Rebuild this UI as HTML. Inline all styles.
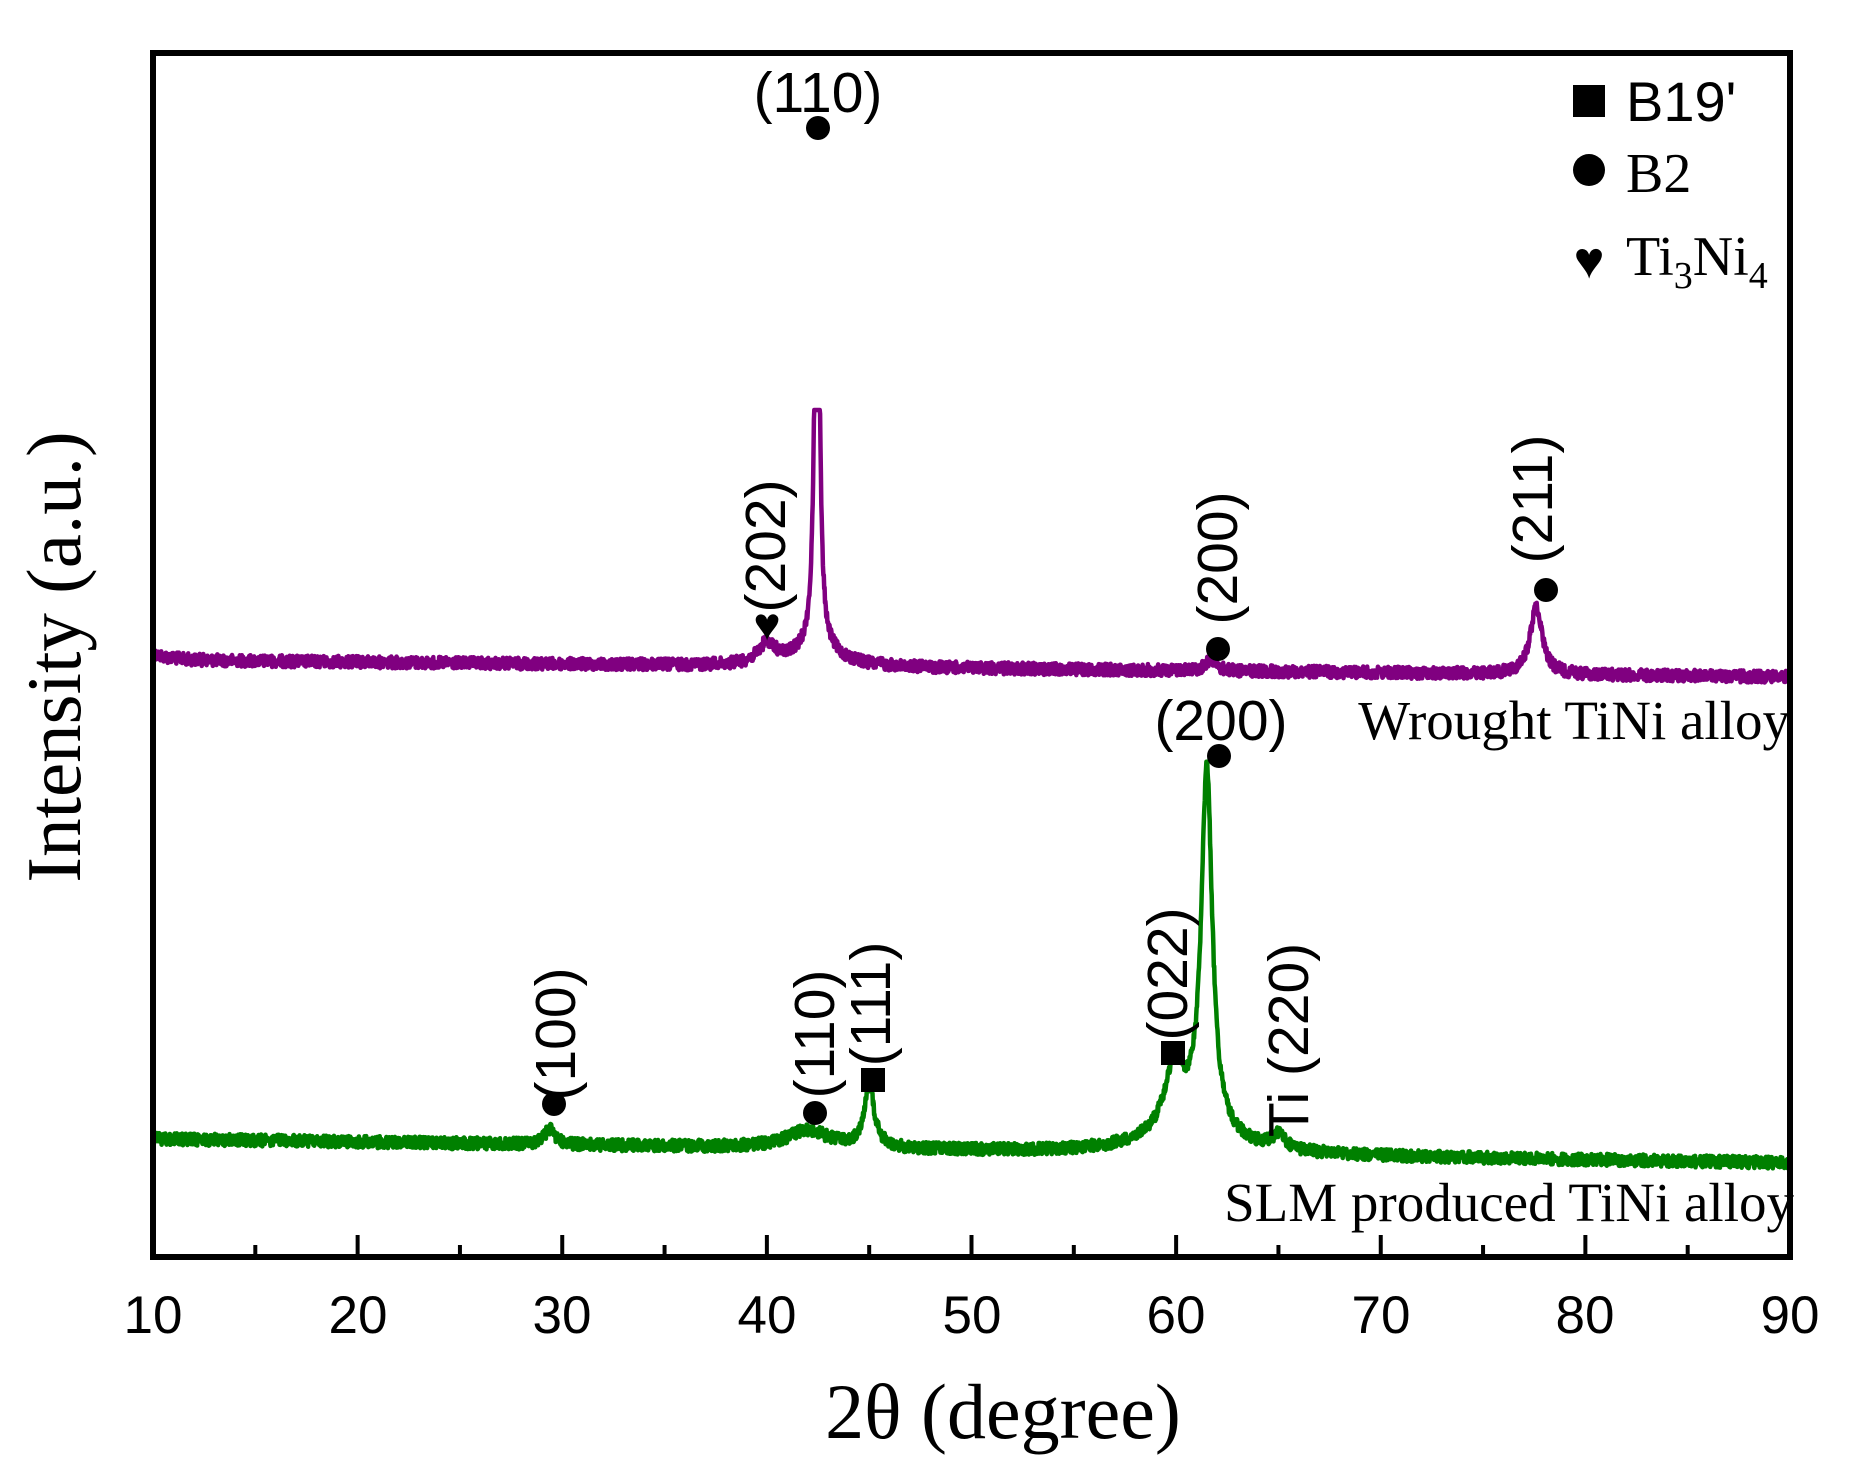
<!DOCTYPE html>
<html><head><meta charset="utf-8">
<style>
html,body{margin:0;padding:0;background:#fff;}
svg{display:block;}
.a{font-family:"Liberation Sans",Arial,sans-serif;font-size:57px;fill:#000;}
.t{font-family:"Liberation Serif","Times New Roman",serif;fill:#000;}
</style></head>
<body>
<svg id="s" width="1854" height="1471" viewBox="0 0 1854 1471" xmlns="http://www.w3.org/2000/svg">
<g id="curves"></g>
<rect x="153" y="53" width="1637" height="1204" fill="none" stroke="#000" stroke-width="6"/>
<g id="ticks" stroke="#000" stroke-width="4"></g>
<g class="a" text-anchor="middle" style="font-size:53px">
<text x="153" y="1333">10</text><text x="358" y="1333">20</text><text x="562" y="1333">30</text>
<text x="767" y="1333">40</text><text x="972" y="1333">50</text><text x="1176" y="1333">60</text>
<text x="1381" y="1333">70</text><text x="1585" y="1333">80</text><text x="1790" y="1333">90</text>
</g>
<text class="t" x="1003" y="1438" text-anchor="middle" style="font-size:78px">2θ (degree)</text>
<text class="t" transform="translate(80,657) rotate(-90)" text-anchor="middle" style="font-size:77px">Intensity (a.u.)</text>
<!-- legend -->
<rect x="1573" y="85" width="32" height="32" fill="#000"/>
<text class="a" x="1626" y="121" style="font-size:56px">B19'</text>
<circle cx="1589" cy="170" r="16" fill="#000"/>
<text class="t" x="1626" y="192" style="font-size:56px">B2</text>
<text class="t" x="1589" y="278" text-anchor="middle" style="font-size:52px">♥</text>
<text class="t" x="1626" y="275" style="font-size:56px">Ti<tspan font-size="38" dy="13">3</tspan><tspan dy="-13">Ni</tspan><tspan font-size="38" dy="13">4</tspan></text>
<!-- purple annotations -->
<text class="a" x="818" y="112" text-anchor="middle">(110)</text>
<circle cx="818" cy="128" r="12" fill="#000"/>
<text class="t" x="767" y="640" text-anchor="middle" style="font-size:46px">♥</text>
<text class="a" transform="translate(766,546) rotate(-90)" text-anchor="middle" dominant-baseline="central">(202)</text>
<circle cx="1218" cy="649" r="12" fill="#000"/>
<text class="a" transform="translate(1218,558) rotate(-90)" text-anchor="middle" dominant-baseline="central">(200)</text>
<circle cx="1546" cy="590" r="12" fill="#000"/>
<text class="a" transform="translate(1533,499) rotate(-90)" text-anchor="middle" dominant-baseline="central">(211)</text>
<text class="t" x="1790" y="739" text-anchor="end" style="font-size:55px">Wrought TiNi alloy</text>
<!-- green annotations -->
<text class="a" x="1221" y="740" text-anchor="middle">(200)</text>
<circle cx="1219" cy="756" r="12" fill="#000"/>
<circle cx="554" cy="1104" r="12" fill="#000"/>
<text class="a" transform="translate(556,1034) rotate(-90)" text-anchor="middle" dominant-baseline="central">(100)</text>
<circle cx="815" cy="1113" r="12" fill="#000"/>
<text class="a" transform="translate(815,1034) rotate(-90)" text-anchor="middle" dominant-baseline="central">(110)</text>
<rect x="861" y="1068" width="24" height="24" fill="#000"/>
<text class="a" transform="translate(871,1004) rotate(-90)" text-anchor="middle" dominant-baseline="central">(111)</text>
<rect x="1161" y="1041" width="24" height="24" fill="#000"/>
<text class="a" transform="translate(1168,974) rotate(-90)" text-anchor="middle" dominant-baseline="central">(022)</text>
<text class="a" transform="translate(1289,1040) rotate(-90)" text-anchor="middle" dominant-baseline="central">Ti (220)</text>
<text class="t" x="1794" y="1221" text-anchor="end" style="font-size:55px">SLM produced TiNi alloy</text>
</svg>
<script>
(function(){
var NS="http://www.w3.org/2000/svg";
function X(d){return 153+(d-10)*20.4625;}
var seed=12345;function rnd(){seed=(seed*1103515245+12345)%2147483648;return seed/2147483648;}
function L(d,c,w){var u=(d-c)/w;return 1/(1+u*u);}
function path(f,col,clip){
  var s="";
  for(var d=10;d<=90;d+=0.02){
    var y=f(d)+(rnd()-0.5)*12;
    if(clip!==undefined&&y<clip)y=clip;
    s+=(s?"L":"M")+X(d).toFixed(1)+" "+y.toFixed(1);
  }
  var p=document.createElementNS(NS,"path");
  p.setAttribute("d",s);p.setAttribute("fill","none");p.setAttribute("stroke",col);
  p.setAttribute("stroke-width","4.5");p.setAttribute("stroke-linejoin","round");
  document.getElementById("curves").appendChild(p);
}
path(function(d){
  var b=660+(d-10)/80*17-6*Math.exp(-(d-10));
  b-=600*L(d,42.45,0.12)+18*L(d,42.4,1.3)+20*L(d,40,0.5)+12*L(d,61.7,0.3)+68*L(d,77.6,0.35);
  return b;
},"#800080",410);
path(function(d){
  var b=1139+(d-10)/80*24;
  b-=16*L(d,29.4,0.3)+18*L(d,42,1.2)+62*L(d,45,0.3)+60*L(d,59.9,0.5)+30*L(d,60.5,2)+360*L(d,61.5,0.32)+14*L(d,65,0.4);
  return b;
},"#008000");
var g=document.getElementById("ticks");
for(var d=15;d<90;d+=5){
  var l=document.createElementNS(NS,"line");
  var len=(d%10==0)?19:9;
  l.setAttribute("x1",X(d));l.setAttribute("x2",X(d));
  l.setAttribute("y1",1254);l.setAttribute("y2",1254-len);
  g.appendChild(l);
}
})();
</script>
</body></html>
